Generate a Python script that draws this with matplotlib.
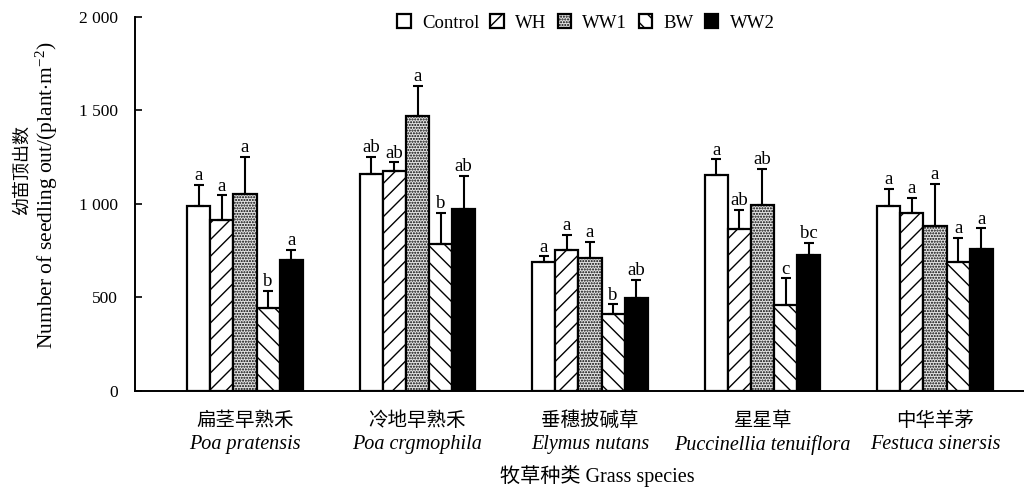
import numpy as np
import matplotlib
matplotlib.use('Agg')
import matplotlib.pyplot as plt

plt.rcParams['font.family'] = ['Liberation Serif', 'Noto Sans CJK SC']
plt.rcParams['mathtext.fontset'] = 'custom'
plt.rcParams['mathtext.rm'] = 'Liberation Serif'
plt.rcParams['mathtext.it'] = 'Liberation Serif:italic'
plt.rcParams['hatch.linewidth'] = 1.0

# grass species
species_cn = ['扁茎早熟禾', '冷地早熟禾', '垂穗披碱草', '星星草', '中华羊茅']
species_lat = ['Poa pratensis', 'Poa crgmophila', 'Elymus nutans',
               'Puccinellia tenuiflora', 'Festuca sinersis']
treatments = ['Control', 'WH', 'WW1', 'BW', 'WW2']

# seedling counts (plant/m2), one list per treatment across the species
control = [990, 1158, 688, 1155, 988]
wh = [915, 1175, 755, 863, 953]
ww1 = [1050, 1470, 710, 995, 880]
bw = [440, 785, 407, 457, 686]
ww2 = [697, 973, 497, 726, 756]

# standard errors (upper bars only)
control_se = [110, 92, 30, 82, 93]
wh_se = [130, 47, 78, 106, 78]
ww1_se = [200, 160, 87, 192, 228]
bw_se = [95, 165, 54, 144, 131]
ww2_se = [58, 177, 97, 64, 113]

# significance letters
control_sig = ['a', 'ab', 'a', 'a', 'a']
wh_sig = ['a', 'ab', 'a', 'ab', 'a']
ww1_sig = ['a', 'a', 'a', 'ab', 'a']
bw_sig = ['b', 'b', 'b', 'c', 'a']
ww2_sig = ['a', 'ab', 'ab', 'bc', 'a']

means = [control, wh, ww1, bw, ww2]
errs = [control_se, wh_se, ww1_se, bw_se, ww2_se]
sigs = [control_sig, wh_sig, ww1_sig, bw_sig, ww2_sig]

styles = [dict(facecolor='white', hatch=''),
          dict(facecolor='white', hatch='//'),
          dict(facecolor='#e4e4e4', hatch='......'),
          dict(facecolor='white', hatch='\\\\'),
          dict(facecolor='black', hatch='')]

fig = plt.figure(figsize=(10.24, 4.93), dpi=100)
ax = fig.add_axes([0.1318, 0.2079, 0.8682, 0.7576])

x = np.arange(len(species_cn))
width = 0.134

for i in range(len(treatments)):
    pos = x + (i - 2) * width
    ax.bar(pos, means[i], width, edgecolor='black', linewidth=1.6,
           label=treatments[i], **styles[i])
    ax.errorbar(pos, means[i], yerr=[np.zeros(len(x)), errs[i]], fmt='none',
                ecolor='black', elinewidth=1.5, capsize=3.5, capthick=1.5)
    for p, m, e, s in zip(pos, means[i], errs[i], sigs[i]):
        ax.annotate(s, (p, m + e), xytext=(0, 0.5), textcoords='offset points',
                    ha='center', va='bottom', fontsize=13.5)

ax.set_xlim(-0.638, 4.516)
ax.set_ylim(0, 2000)
ax.set_yticks([0, 500, 1000, 1500, 2000])
ax.set_yticklabels(['0', '500', '1 000', '1 500', '2 000'])
ax.tick_params(axis='y', direction='in', length=5, width=1.2, pad=12, labelsize=12.5)
ax.set_xticks([])
for side in ['top', 'right']:
    ax.spines[side].set_visible(False)
for side in ['left', 'bottom']:
    ax.spines[side].set_linewidth(1.4)

# two-line category labels
for xi, cn, lat in zip(x, species_cn, species_lat):
    ax.annotate(cn, (xi, 0), xycoords=('data', 'axes fraction'), xytext=(0, -21.5),
                textcoords='offset points', ha='center', va='center', fontsize=14)
    ax.annotate(lat, (xi, 0), xycoords=('data', 'axes fraction'), xytext=(0, -39),
                textcoords='offset points', ha='center', va='center', fontsize=14.5,
                style='italic')

fig.text(597 / 1024, 1 - 476 / 493, '牧草种类 Grass species', ha='center', va='center',
         fontsize=14.5)
fig.text(22 / 1024, 1 - 170 / 493, '幼苗顶出数', rotation=90, ha='center', va='center',
         fontsize=13)
fig.text(47 / 1024, 1 - 195 / 493, r'Number of seedling out/(plant$\cdot$m$^{-2}$)',
         rotation=90, ha='center', va='center', fontsize=15.5)

ax.legend(loc='center', bbox_to_anchor=(0.507, 0.984), ncol=5, frameon=False,
          fontsize=13.5, handlelength=0.72, handleheight=0.72, handletextpad=0.6,
          columnspacing=0.6)

fig.savefig('out.png', dpi=100)
